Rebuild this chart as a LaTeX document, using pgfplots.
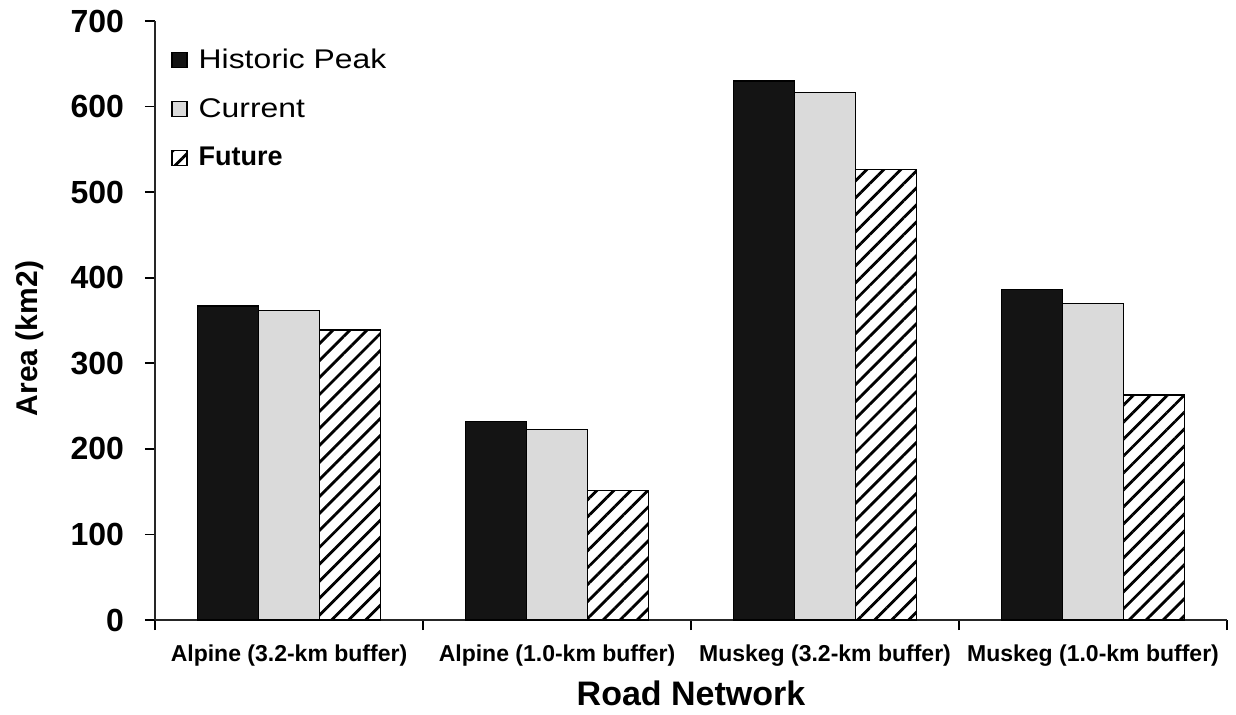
\documentclass[border=0pt]{standalone}
\usepackage{fontspec}
\setmainfont{Liberation Sans}
\usepackage{pgfplots}
\pgfplotsset{compat=1.18}
\usetikzlibrary{patterns.meta}
\definecolor{histc}{HTML}{141414}
\definecolor{currc}{HTML}{DADADA}
\begin{document}
\begin{tikzpicture}
\useasboundingbox (0,0) rectangle (618pt,357pt);
\pgfplotsset{mylegend/.style={legend image code/.code={\draw[##1, line width=0.6pt] (0pt,-3.75pt) rectangle (7.5pt,3.75pt); \path[draw=none] (11pt,0pt);}}}
\begin{axis}[
  at={(77.5pt,47pt)}, anchor=south west,
  scale only axis, width=536pt, height=299.5pt,
  xmin=-0.5, xmax=3.5, ymin=0, ymax=700,
  axis x line*=bottom, axis y line*=left,
  axis line style={-, line width=0.9pt, black!85},
  tick align=outside, major tick length=5pt,
  tick style={black, line width=0.8pt},
  ybar=0pt, bar width=30.5pt,
  xtick={-0.5,0.5,1.5,2.5,3.5},
  x tick label as interval,
  xticklabels={Alpine (3.2-km buffer), Alpine (1.0-km buffer), Muskeg (3.2-km buffer), Muskeg (1.0-km buffer)},
  xticklabel style={font=\fontsize{11.5}{14}\selectfont\bfseries, yshift=-4pt},
  ytick={0,100,...,700},
  yticklabel style={font=\fontsize{16}{19}\selectfont\bfseries, xshift=-7pt},
  /pgf/number format/assume math mode=true,
  xlabel={Road Network},
  ylabel={Area (km2)},
  xlabel style={font=\fontsize{17}{20}\selectfont\bfseries, at={(axis description cs:0.5,-0.122)}, anchor=center},
  ylabel style={font=\fontsize{15}{18}\selectfont\bfseries, at={(axis description cs:-0.1166,0.47)}, anchor=center, rotate=0},
  legend cell align=left,
  legend style={at={(axis description cs:0.015,0.961)}, anchor=north west, draw=none, fill=none, inner sep=0pt,
    font=\fontsize{13.5}{15}\selectfont, row sep=9.5pt},
]
\addplot[mylegend, fill=histc, draw=black, line width=0.6pt] coordinates {(0,367) (1,232) (2,630) (3,386)};
\addplot[mylegend, fill=currc, draw=black, line width=0.6pt] coordinates {(0,362) (1,223) (2,616) (3,370)};
\addplot[mylegend, fill=white, draw=black, line width=0.6pt, postaction={pattern={Lines[angle=45,distance=6pt,line width=1.4pt]}}] coordinates {(0,339) (1,151) (2,526) (3,263)};
\legend{\scalebox{1.18}[1]{Historic Peak}, \scalebox{1.18}[1]{Current}, \textbf{Future}}
\end{axis}
\end{tikzpicture}
\end{document}
